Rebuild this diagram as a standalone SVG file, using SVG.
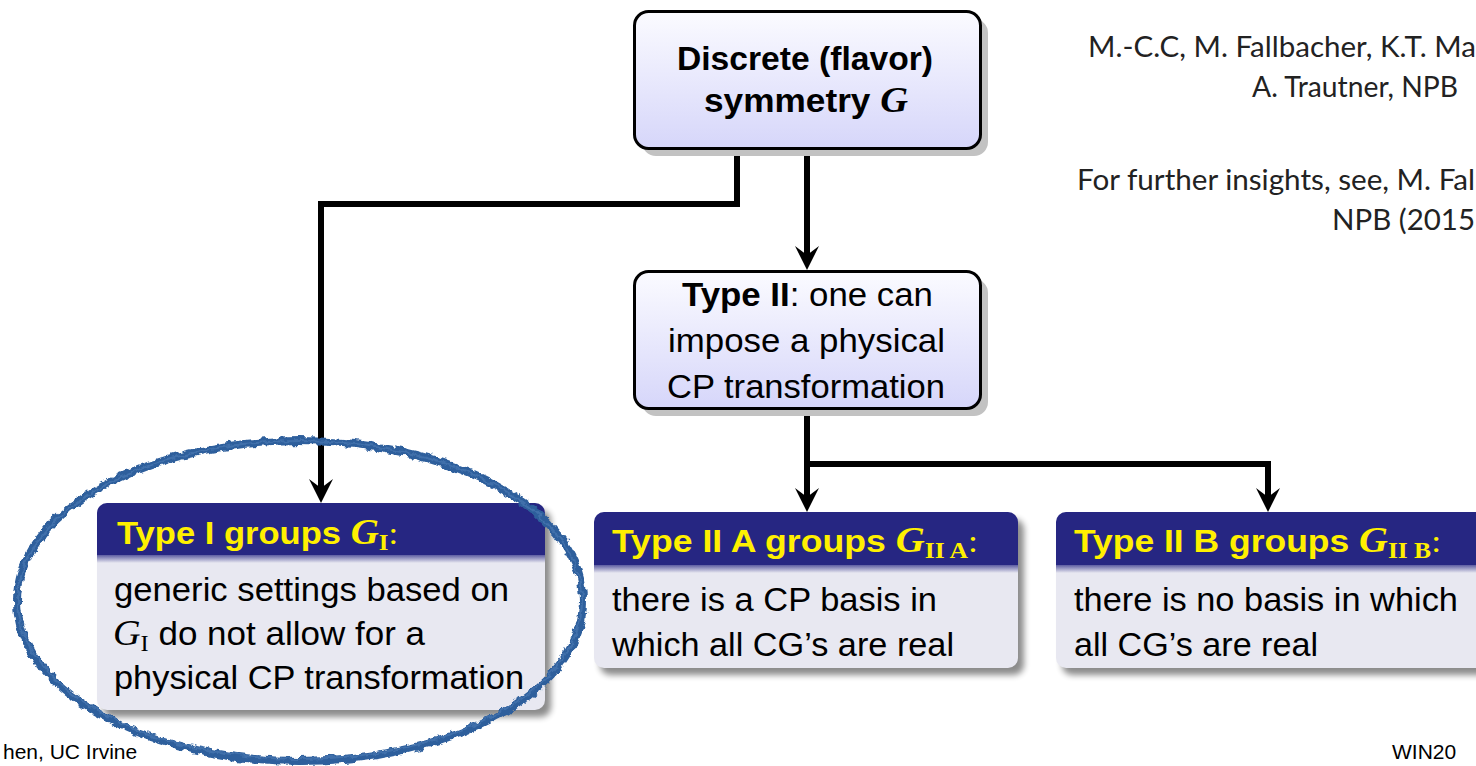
<svg xmlns="http://www.w3.org/2000/svg" width="1476" height="766" viewBox="0 0 1476 766">
<defs>
<linearGradient id="gTop" x1="0" y1="0" x2="0" y2="1">
<stop offset="0" stop-color="#fbfbff"/>
<stop offset="1" stop-color="#d6d6fa"/>
</linearGradient>
<linearGradient id="band" x1="0" y1="0" x2="0" y2="1">
<stop offset="0" stop-color="#5c5ca2"/>
<stop offset="1" stop-color="#e8e8f1"/>
</linearGradient>
<filter id="blur" x="-10%" y="-10%" width="120%" height="130%">
<feGaussianBlur stdDeviation="3"/>
</filter>
<filter id="rough" x="-5%" y="-5%" width="110%" height="110%">
<feTurbulence type="fractalNoise" baseFrequency="0.12" numOctaves="3" seed="4" result="n"/>
<feDisplacementMap in="SourceGraphic" in2="n" scale="7" xChannelSelector="R" yChannelSelector="G"/>
</filter>
<marker id="arr" markerUnits="userSpaceOnUse" markerWidth="24" markerHeight="24" viewBox="0 0 24 24" refX="9" refY="12" orient="auto">
<path d="M0,0 L24,12 L0,24 L9,12 Z" fill="#000"/>
</marker>
</defs>
<style>
.sh{fill:#c2c2c2}
.frame{fill:url(#gTop);stroke:#000;stroke-width:3}
.t{font-family:"Liberation Sans",Arial,sans-serif;font-size:33px;fill:#000}
.b{font-weight:bold}
.mi{font-family:"Liberation Serif","Times New Roman",serif;font-style:italic;font-size:36px}
.sb{font-family:"Liberation Serif","Times New Roman",serif;font-style:normal;font-size:23px}
.rm{font-family:"Liberation Serif","Times New Roman",serif;font-weight:normal}
.hd{fill:#262682}
.bd{fill:#e8e8f1}
.bsh{fill:#000;opacity:.45;filter:url(#blur)}
.ht{font-family:"Liberation Sans",Arial,sans-serif;font-size:32px;font-weight:bold;fill:#fff000}
.conn{fill:none;stroke:#000;stroke-width:6}
.ref{font-family:Lato,"Open Sans",sans-serif;font-size:29px;fill:#222}
.foot{font-family:"Liberation Sans",Arial,sans-serif;font-size:21px;fill:#000}
</style>

<g id="connectors">
<path class="conn" d="M737,150 V204 H321 V488" marker-end="url(#arr)"/>
<path class="conn" d="M807,150 V255" marker-end="url(#arr)"/>
<path class="conn" d="M807,411 V464 H1268 V497" marker-end="url(#arr)"/>
<path class="conn" d="M807,462 V497" marker-end="url(#arr)"/>
</g>

<g id="node-discrete">
<rect class="sh" x="642" y="19" width="346" height="137" rx="14"/>
<rect class="frame" x="634.5" y="11.5" width="346" height="137" rx="14"/>
<text class="t b" x="677" y="70" textLength="256" lengthAdjust="spacingAndGlyphs">Discrete (flavor)</text>
<text class="t b" x="704" y="112" textLength="204" lengthAdjust="spacingAndGlyphs">symmetry <tspan class="mi">G</tspan></text>
</g>

<g id="node-type2">
<rect class="sh" x="642" y="279" width="346" height="137" rx="14"/>
<rect class="frame" x="634.5" y="271.5" width="346" height="137" rx="14"/>
<text class="t" x="682" y="306" textLength="251" lengthAdjust="spacingAndGlyphs"><tspan class="b">Type II</tspan>: one can</text>
<text class="t" x="668" y="352" textLength="277" lengthAdjust="spacingAndGlyphs">impose a physical</text>
<text class="t" x="667" y="398" textLength="278" lengthAdjust="spacingAndGlyphs">CP transformation</text>
</g>

<g id="node-type1">
<rect class="bsh" x="103" y="510" width="448" height="207" rx="10"/>
<rect class="bd" x="97" y="503" width="448" height="207" rx="10"/>
<path class="hd" d="M97,555 V513 A10,10 0 0 1 107,503 H535 A10,10 0 0 1 545,513 V555 Z"/>
<rect x="97" y="555" width="448" height="8" fill="url(#band)"/>
<text class="ht" x="117" y="544" textLength="281" lengthAdjust="spacingAndGlyphs">Type I groups <tspan class="mi">G</tspan><tspan class="sb" dy="6">I</tspan><tspan class="rm" dy="-6">:</tspan></text>
<text class="t" x="114" y="601" textLength="395" lengthAdjust="spacingAndGlyphs">generic settings based on</text>
<text class="t" x="113" y="645" textLength="312" lengthAdjust="spacingAndGlyphs"><tspan class="mi">G</tspan><tspan class="sb" dy="6">I</tspan><tspan dy="-6"> do not allow for a</tspan></text>
<text class="t" x="114" y="689" textLength="410" lengthAdjust="spacingAndGlyphs">physical CP transformation</text>
</g>

<g id="node-type2a">
<rect class="bsh" x="600" y="519" width="424" height="156" rx="10"/>
<rect class="bd" x="594" y="512" width="424" height="156" rx="10"/>
<path class="hd" d="M594,565 V522 A10,10 0 0 1 604,512 H1008 A10,10 0 0 1 1018,522 V565 Z"/>
<rect x="594" y="565" width="424" height="8" fill="url(#band)"/>
<text class="ht" x="612" y="552" textLength="366" lengthAdjust="spacingAndGlyphs">Type II A groups <tspan class="mi">G</tspan><tspan class="sb" font-weight="bold" dy="6">II A</tspan><tspan class="rm" dy="-6">:</tspan></text>
<text class="t" x="612" y="611" textLength="325" lengthAdjust="spacingAndGlyphs">there is a CP basis in</text>
<text class="t" x="612" y="656" textLength="342" lengthAdjust="spacingAndGlyphs">which all CG’s are real</text>
</g>

<g id="node-type2b">
<rect class="bsh" x="1062" y="519" width="430" height="156" rx="10"/>
<rect class="bd" x="1056" y="512" width="430" height="156" rx="10"/>
<path class="hd" d="M1056,565 V522 A10,10 0 0 1 1066,512 H1476 A10,10 0 0 1 1486,522 V565 Z"/>
<rect x="1056" y="565" width="430" height="8" fill="url(#band)"/>
<text class="ht" x="1074" y="552" textLength="367" lengthAdjust="spacingAndGlyphs">Type II B groups <tspan class="mi">G</tspan><tspan class="sb" font-weight="bold" dy="6">II B</tspan><tspan class="rm" dy="-6">:</tspan></text>
<text class="t" x="1074" y="611" textLength="384" lengthAdjust="spacingAndGlyphs">there is no basis in which</text>
<text class="t" x="1074" y="656" textLength="244" lengthAdjust="spacingAndGlyphs">all CG’s are real</text>
</g>

<g id="refs">
<text class="ref" x="1088" y="57" textLength="388" lengthAdjust="spacingAndGlyphs">M.-C.C, M. Fallbacher, K.T. Ma</text>
<text class="ref" x="1252" y="97" textLength="206" lengthAdjust="spacingAndGlyphs">A. Trautner, NPB</text>
<text class="ref" x="1077" y="190" textLength="398" lengthAdjust="spacingAndGlyphs">For further insights, see, M. Fal</text>
<text class="ref" x="1332" y="230" textLength="143" lengthAdjust="spacingAndGlyphs">NPB (2015</text>
</g>

<g id="footer">
<text class="foot" x="3" y="759">hen, UC Irvine</text>
<text class="foot" x="1392" y="759">WIN20</text>
</g>

<g id="highlight">
<ellipse cx="300" cy="601" rx="283" ry="160" fill="none" stroke="#2d5e9c" stroke-width="8" filter="url(#rough)"/>
<ellipse cx="300" cy="600" rx="282" ry="159" fill="none" stroke="#4a78b2" stroke-width="2" opacity=".7" filter="url(#rough)"/>
</g>
</svg>
